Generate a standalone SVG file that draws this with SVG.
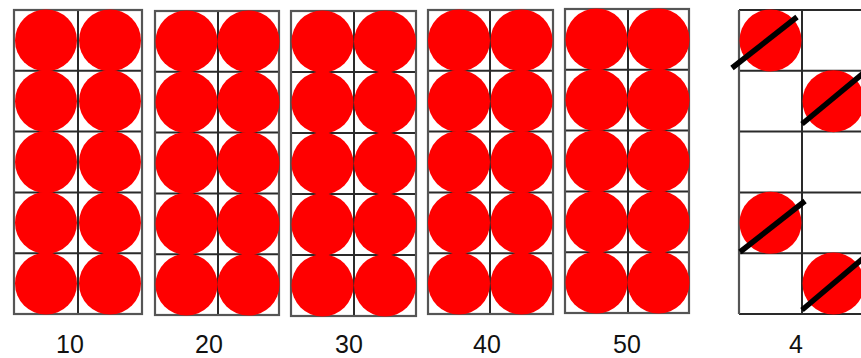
<svg xmlns="http://www.w3.org/2000/svg" width="861" height="358" viewBox="0 0 861 358">
<style>
.g{fill:none;stroke:#2a2a2a;stroke-width:2}
.o{fill:none;stroke:#555;stroke-width:2.2}
.c{fill:#ff0000}
.s{stroke:#000;stroke-width:5.5;stroke-linecap:butt}
.t{font-family:"Liberation Sans",Arial,sans-serif;font-size:25px;fill:#111;text-anchor:middle}
</style>
<rect width="861" height="358" fill="#fff"/>
<g id="frame10">
<path class="g" d="M14 70.8H142M14 131.6H142M14 192.4H142M14 253.2H142M78 10V314"/>
<rect class="o" x="14" y="10" width="128" height="304"/>
<g class="c">
<circle cx="46" cy="40.4" r="31"/><circle cx="110" cy="40.4" r="31"/>
<circle cx="46" cy="101.2" r="31"/><circle cx="110" cy="101.2" r="31"/>
<circle cx="46" cy="162" r="31"/><circle cx="110" cy="162" r="31"/>
<circle cx="46" cy="222.8" r="31"/><circle cx="110" cy="222.8" r="31"/>
<circle cx="46" cy="283.6" r="31"/><circle cx="110" cy="283.6" r="31"/>
</g>
<text class="t" x="70" y="353">10</text>
</g>
<g id="frame20">
<path class="g" d="M155 71.8H279M155 132.6H279M155 193.4H279M155 254.2H279M218 11V315"/>
<rect class="o" x="155" y="11" width="124" height="304"/>
<g class="c">
<circle cx="186.5" cy="41.4" r="31"/><circle cx="248.5" cy="41.4" r="31"/>
<circle cx="186.5" cy="102.2" r="31"/><circle cx="248.5" cy="102.2" r="31"/>
<circle cx="186.5" cy="163" r="31"/><circle cx="248.5" cy="163" r="31"/>
<circle cx="186.5" cy="223.8" r="31"/><circle cx="248.5" cy="223.8" r="31"/>
<circle cx="186.5" cy="284.6" r="31"/><circle cx="248.5" cy="284.6" r="31"/>
</g>
<text class="t" x="209" y="353">20</text>
</g>
<g id="frame30">
<path class="g" d="M291 72H416M291 133H416M291 194H416M291 255H416M354 11V316"/>
<rect class="o" x="291" y="11" width="125" height="305"/>
<g class="c">
<circle cx="322.5" cy="41.5" r="31"/><circle cx="385" cy="41.5" r="31"/>
<circle cx="322.5" cy="102.5" r="31"/><circle cx="385" cy="102.5" r="31"/>
<circle cx="322.5" cy="163.5" r="31"/><circle cx="385" cy="163.5" r="31"/>
<circle cx="322.5" cy="224.5" r="31"/><circle cx="385" cy="224.5" r="31"/>
<circle cx="322.5" cy="285.5" r="31"/><circle cx="385" cy="285.5" r="31"/>
</g>
<text class="t" x="349" y="353">30</text>
</g>
<g id="frame40">
<path class="g" d="M428 70.8H553M428 131.6H553M428 192.4H553M428 253.2H553M490 10V314"/>
<rect class="o" x="428" y="10" width="125" height="304"/>
<g class="c">
<circle cx="459" cy="40.4" r="31"/><circle cx="521.5" cy="40.4" r="31"/>
<circle cx="459" cy="101.2" r="31"/><circle cx="521.5" cy="101.2" r="31"/>
<circle cx="459" cy="162" r="31"/><circle cx="521.5" cy="162" r="31"/>
<circle cx="459" cy="222.8" r="31"/><circle cx="521.5" cy="222.8" r="31"/>
<circle cx="459" cy="283.6" r="31"/><circle cx="521.5" cy="283.6" r="31"/>
</g>
<text class="t" x="487" y="353">40</text>
</g>
<g id="frame50">
<path class="g" d="M565 69.8H689M565 130.6H689M565 191.4H689M565 252.2H689M628 9V313"/>
<rect class="o" x="565" y="9" width="124" height="304"/>
<g class="c">
<circle cx="596.5" cy="39.4" r="31"/><circle cx="658.5" cy="39.4" r="31"/>
<circle cx="596.5" cy="100.2" r="31"/><circle cx="658.5" cy="100.2" r="31"/>
<circle cx="596.5" cy="161" r="31"/><circle cx="658.5" cy="161" r="31"/>
<circle cx="596.5" cy="221.8" r="31"/><circle cx="658.5" cy="221.8" r="31"/>
<circle cx="596.5" cy="282.6" r="31"/><circle cx="658.5" cy="282.6" r="31"/>
</g>
<text class="t" x="627" y="353">50</text>
</g>
<g id="frame4">
<path class="g" d="M739 10H866M739 70.8H866M739 131.6H866M739 192.4H866M739 253.2H866M739 314H866M802 10V314"/>
<path class="o" d="M739 10V314"/>
<g class="c">
<circle cx="770.5" cy="40.4" r="31"/>
<circle cx="833.5" cy="101.2" r="31"/>
<circle cx="770.5" cy="222.8" r="31"/>
<circle cx="833.5" cy="283.6" r="31"/>
</g>
<g class="s">
<line x1="732" y1="68" x2="797" y2="17"/>
<line x1="802" y1="124" x2="866" y2="71"/>
<line x1="740" y1="252" x2="805" y2="201"/>
<line x1="802" y1="310" x2="866" y2="256"/>
</g>
<text class="t" x="796" y="353">4</text>
</g>
</svg>
